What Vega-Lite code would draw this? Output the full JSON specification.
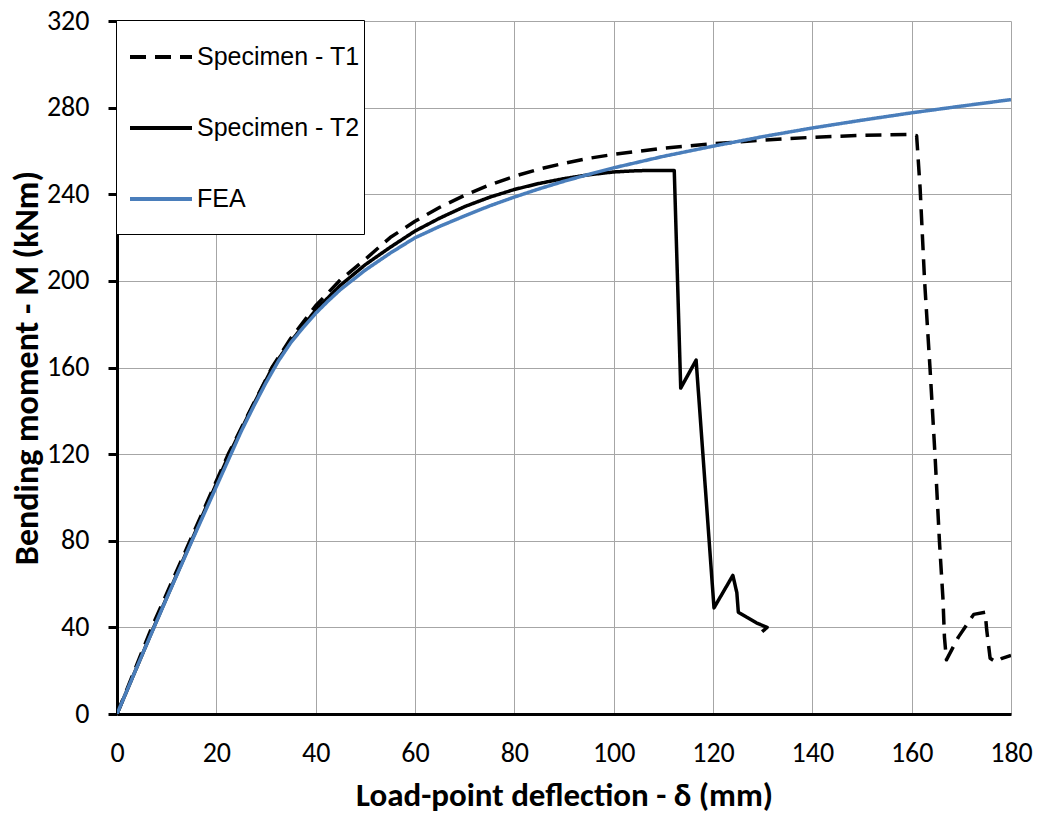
{
  "$schema": "https://vega.github.io/schema/vega-lite/v6.json",
  "width": 894,
  "height": 693,
  "autosize": "none",
  "padding": {"left": 117, "top": 21, "right": 27, "bottom": 102},
  "background": "white",
  "config": {
    "view": {"stroke": null},
    "axis": {
      "domainColor": "#000000",
      "domainWidth": 3,
      "gridColor": "#a6a6a6",
      "gridWidth": 1,
      "labelFont": "Carlito, Lato",
      "labelFontSize": 28,
      "labelColor": "#000000",
      "labelFlush": false,
      "titleFont": "Carlito, Lato",
      "titleFontSize": 34,
      "titleFontWeight": "bold",
      "titleColor": "#000000"
    },
    "legend": {
      "orient": "none",
      "legendX": -1,
      "legendY": -1,
      "strokeColor": "#000000",
      "fillColor": "#ffffff",
      "padding": 4,
      "symbolType": "stroke",
      "symbolSize": 3844,
      "symbolStrokeWidth": 4,
      "symbolOffset": 8,
      "labelOffset": 3,
      "rowPadding": 25,
      "labelFont": "Liberation Sans, Arial",
      "labelFontSize": 25,
      "labelColor": "#000000",
      "labelLimit": 400,
      "titleOrient": "bottom",
      "titleFontSize": 10,
      "titlePadding": 8
    }
  },
  "data": {
    "values": [
      {"s": "Specimen - T1", "i": 0, "x": 0, "y": 0},
      {"s": "Specimen - T1", "i": 1, "x": 7, "y": 40},
      {"s": "Specimen - T1", "i": 2, "x": 14.7, "y": 80},
      {"s": "Specimen - T1", "i": 3, "x": 22.4, "y": 120},
      {"s": "Specimen - T1", "i": 4, "x": 27.2, "y": 142},
      {"s": "Specimen - T1", "i": 5, "x": 31.2, "y": 160},
      {"s": "Specimen - T1", "i": 6, "x": 35, "y": 173.5},
      {"s": "Specimen - T1", "i": 7, "x": 40, "y": 188.5},
      {"s": "Specimen - T1", "i": 8, "x": 45, "y": 200.5},
      {"s": "Specimen - T1", "i": 9, "x": 50, "y": 210},
      {"s": "Specimen - T1", "i": 10, "x": 55, "y": 220},
      {"s": "Specimen - T1", "i": 11, "x": 60, "y": 227.5},
      {"s": "Specimen - T1", "i": 12, "x": 65, "y": 234},
      {"s": "Specimen - T1", "i": 13, "x": 70, "y": 239.5},
      {"s": "Specimen - T1", "i": 14, "x": 75, "y": 244.3},
      {"s": "Specimen - T1", "i": 15, "x": 80, "y": 248.3},
      {"s": "Specimen - T1", "i": 16, "x": 85, "y": 251.6},
      {"s": "Specimen - T1", "i": 17, "x": 90, "y": 254.3},
      {"s": "Specimen - T1", "i": 18, "x": 95, "y": 256.6},
      {"s": "Specimen - T1", "i": 19, "x": 100, "y": 258.4},
      {"s": "Specimen - T1", "i": 20, "x": 110, "y": 261.3},
      {"s": "Specimen - T1", "i": 21, "x": 120, "y": 263.3},
      {"s": "Specimen - T1", "i": 22, "x": 130, "y": 265},
      {"s": "Specimen - T1", "i": 23, "x": 140, "y": 266.3},
      {"s": "Specimen - T1", "i": 24, "x": 150, "y": 267.2},
      {"s": "Specimen - T1", "i": 25, "x": 160, "y": 267.6},
      {"s": "Specimen - T1", "i": 26, "x": 161, "y": 267},
      {"s": "Specimen - T1", "i": 27, "x": 161.7, "y": 242.8},
      {"s": "Specimen - T1", "i": 28, "x": 162.6, "y": 200},
      {"s": "Specimen - T1", "i": 29, "x": 163.7, "y": 159.5},
      {"s": "Specimen - T1", "i": 30, "x": 164.7, "y": 119.6},
      {"s": "Specimen - T1", "i": 31, "x": 165.6, "y": 79.4},
      {"s": "Specimen - T1", "i": 32, "x": 166.3, "y": 53.2},
      {"s": "Specimen - T1", "i": 33, "x": 166.6, "y": 35.5},
      {"s": "Specimen - T1", "i": 34, "x": 167, "y": 25},
      {"s": "Specimen - T1", "i": 35, "x": 169.4, "y": 35.5},
      {"s": "Specimen - T1", "i": 36, "x": 172.5, "y": 46},
      {"s": "Specimen - T1", "i": 37, "x": 174.8, "y": 47},
      {"s": "Specimen - T1", "i": 38, "x": 175.1, "y": 39},
      {"s": "Specimen - T1", "i": 39, "x": 175.8, "y": 25.7},
      {"s": "Specimen - T1", "i": 40, "x": 177, "y": 24},
      {"s": "Specimen - T1", "i": 41, "x": 178.2, "y": 25.7},
      {"s": "Specimen - T1", "i": 42, "x": 180, "y": 27},

      {"s": "Specimen - T2", "i": 0, "x": 0, "y": 0},
      {"s": "Specimen - T2", "i": 1, "x": 7.4, "y": 40},
      {"s": "Specimen - T2", "i": 2, "x": 15, "y": 80},
      {"s": "Specimen - T2", "i": 3, "x": 22.6, "y": 120},
      {"s": "Specimen - T2", "i": 4, "x": 27.3, "y": 142},
      {"s": "Specimen - T2", "i": 5, "x": 31.3, "y": 160},
      {"s": "Specimen - T2", "i": 6, "x": 35, "y": 172},
      {"s": "Specimen - T2", "i": 7, "x": 40, "y": 186.5},
      {"s": "Specimen - T2", "i": 8, "x": 45, "y": 198},
      {"s": "Specimen - T2", "i": 9, "x": 50, "y": 207.5},
      {"s": "Specimen - T2", "i": 10, "x": 55, "y": 215.5},
      {"s": "Specimen - T2", "i": 11, "x": 60, "y": 223},
      {"s": "Specimen - T2", "i": 12, "x": 65, "y": 229},
      {"s": "Specimen - T2", "i": 13, "x": 70, "y": 234.3},
      {"s": "Specimen - T2", "i": 14, "x": 75, "y": 238.6},
      {"s": "Specimen - T2", "i": 15, "x": 80, "y": 242.2},
      {"s": "Specimen - T2", "i": 16, "x": 85, "y": 245},
      {"s": "Specimen - T2", "i": 17, "x": 90, "y": 247.2},
      {"s": "Specimen - T2", "i": 18, "x": 95, "y": 249},
      {"s": "Specimen - T2", "i": 19, "x": 100, "y": 250.3},
      {"s": "Specimen - T2", "i": 20, "x": 105, "y": 250.9},
      {"s": "Specimen - T2", "i": 21, "x": 112.2, "y": 251},
      {"s": "Specimen - T2", "i": 22, "x": 113.5, "y": 150.5},
      {"s": "Specimen - T2", "i": 23, "x": 116.6, "y": 163.4},
      {"s": "Specimen - T2", "i": 24, "x": 120.2, "y": 49},
      {"s": "Specimen - T2", "i": 25, "x": 124, "y": 64},
      {"s": "Specimen - T2", "i": 26, "x": 124.8, "y": 56},
      {"s": "Specimen - T2", "i": 27, "x": 125.1, "y": 47},
      {"s": "Specimen - T2", "i": 28, "x": 128.8, "y": 42},
      {"s": "Specimen - T2", "i": 29, "x": 130.9, "y": 40},
      {"s": "Specimen - T2", "i": 30, "x": 129.9, "y": 38},

      {"s": "FEA", "i": 0, "x": 0, "y": 0},
      {"s": "FEA", "i": 1, "x": 2.5, "y": 13.5},
      {"s": "FEA", "i": 2, "x": 5, "y": 27},
      {"s": "FEA", "i": 3, "x": 10, "y": 53.5},
      {"s": "FEA", "i": 4, "x": 15, "y": 79.5},
      {"s": "FEA", "i": 5, "x": 20, "y": 105},
      {"s": "FEA", "i": 6, "x": 25, "y": 130.5},
      {"s": "FEA", "i": 7, "x": 27.5, "y": 142},
      {"s": "FEA", "i": 8, "x": 30, "y": 153},
      {"s": "FEA", "i": 9, "x": 32.5, "y": 163},
      {"s": "FEA", "i": 10, "x": 35, "y": 171.5},
      {"s": "FEA", "i": 11, "x": 37.5, "y": 178.5},
      {"s": "FEA", "i": 12, "x": 40, "y": 185},
      {"s": "FEA", "i": 13, "x": 42.5, "y": 190.7},
      {"s": "FEA", "i": 14, "x": 45, "y": 196},
      {"s": "FEA", "i": 15, "x": 47.5, "y": 200.5},
      {"s": "FEA", "i": 16, "x": 50, "y": 205},
      {"s": "FEA", "i": 17, "x": 55, "y": 212.8},
      {"s": "FEA", "i": 18, "x": 60, "y": 219.9},
      {"s": "FEA", "i": 19, "x": 65, "y": 225.2},
      {"s": "FEA", "i": 20, "x": 70, "y": 230},
      {"s": "FEA", "i": 21, "x": 75, "y": 234.6},
      {"s": "FEA", "i": 22, "x": 80, "y": 238.7},
      {"s": "FEA", "i": 23, "x": 85, "y": 242.5},
      {"s": "FEA", "i": 24, "x": 90, "y": 246},
      {"s": "FEA", "i": 25, "x": 95, "y": 249.2},
      {"s": "FEA", "i": 26, "x": 100, "y": 252.2},
      {"s": "FEA", "i": 27, "x": 110, "y": 257.5},
      {"s": "FEA", "i": 28, "x": 120, "y": 262.2},
      {"s": "FEA", "i": 29, "x": 130, "y": 266.6},
      {"s": "FEA", "i": 30, "x": 140, "y": 270.6},
      {"s": "FEA", "i": 31, "x": 150, "y": 274.2},
      {"s": "FEA", "i": 32, "x": 160, "y": 277.6},
      {"s": "FEA", "i": 33, "x": 170, "y": 280.7},
      {"s": "FEA", "i": 34, "x": 180, "y": 283.7}
    ]
  },
  "mark": {"type": "line", "strokeWidth": 3.5, "strokeJoin": "round", "clip": true},
  "encoding": {
    "x": {
      "field": "x",
      "type": "quantitative",
      "scale": {"domain": [0, 180], "nice": false, "zero": false},
      "axis": {
        "title": "Load-point deflection - δ (mm)",
        "titleFontSize": 33,
        "values": [0, 20, 40, 60, 80, 100, 120, 140, 160, 180],
        "ticks": false,
        "tickSize": 0,
        "labelPadding": 25,
        "labelBaseline": "top",
        "titlePadding": 12
      }
    },
    "y": {
      "field": "y",
      "type": "quantitative",
      "scale": {"domain": [0, 320], "nice": false},
      "axis": {
        "title": "Bending moment - M (kNm)",
        "values": [0, 40, 80, 120, 160, 200, 240, 280, 320],
        "tickSize": 9,
        "tickWidth": 3,
        "tickColor": "#000000",
        "labelPadding": 19,
        "titlePadding": 2
      }
    },
    "color": {
      "field": "s",
      "type": "nominal",
      "title": " ",
      "scale": {
        "domain": ["Specimen - T1", "Specimen - T2", "FEA"],
        "range": ["#000000", "#000000", "#4a7ebb"]
      }
    },
    "strokeDash": {
      "field": "s",
      "type": "nominal",
      "title": " ",
      "scale": {
        "domain": ["Specimen - T1", "Specimen - T2", "FEA"],
        "range": [[16, 9], [1, 0], [1, 0]]
      }
    },
    "order": {"field": "i", "type": "quantitative"}
  }
}
